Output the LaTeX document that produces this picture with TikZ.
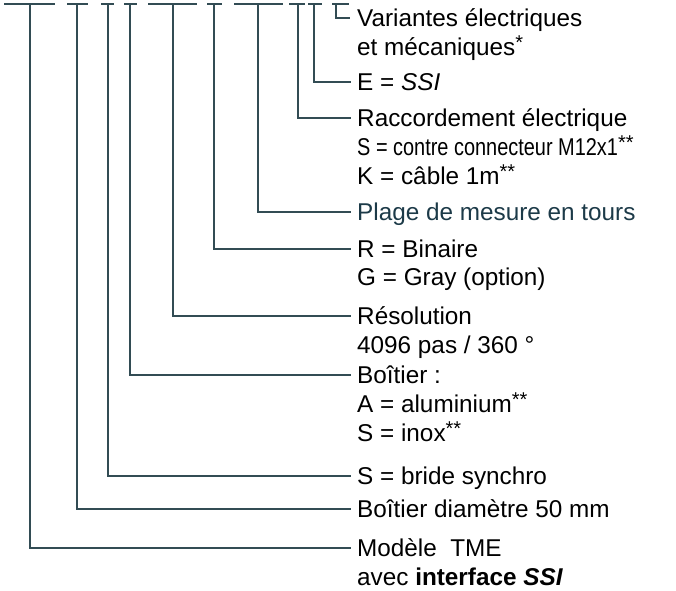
\documentclass[tikz,border=0pt]{standalone}
\usepackage{fontspec}
\setmainfont{Liberation Sans}
\usepackage{graphicx}
\definecolor{lin}{RGB}{50,76,84}
\definecolor{tealtxt}{RGB}{28,58,72}
\newcommand\supast[1]{\raisebox{6pt}{\fontsize{20}{20}\selectfont #1}}
\begin{document}
\begin{tikzpicture}[x=1pt,y=-1pt,
  conn/.style={draw=lin,line width=1.3pt},
  lbl/.style={anchor=west,inner sep=0pt,text height=17pt,text depth=0pt,
    font=\fontsize{24.3}{28}\selectfont,text=black},
]
\useasboundingbox (0,0) rectangle (676,590);
% top bars
\coordinate (a1) at (4,4);   \coordinate (b1) at (55,4);  \coordinate (v1) at (30,4);
\coordinate (a2) at (67,4);  \coordinate (b2) at (88,4);  \coordinate (v2) at (77,4);
\coordinate (a3) at (101,4); \coordinate (b3) at (114,4); \coordinate (v3) at (108,4);
\coordinate (a4) at (124,4); \coordinate (b4) at (137,4); \coordinate (v4) at (130,4);
\coordinate (a5) at (148,4); \coordinate (b5) at (197,4); \coordinate (v5) at (173,4);
\coordinate (a6) at (207,4); \coordinate (b6) at (222,4); \coordinate (v6) at (214,4);
\coordinate (a7) at (234,4); \coordinate (b7) at (283,4); \coordinate (v7) at (258,4);
\coordinate (a8) at (289,4); \coordinate (b8) at (305,4); \coordinate (v8) at (298,4);
\coordinate (a9) at (308,4); \coordinate (b9) at (322,4); \coordinate (v9) at (314,4);
\coordinate (a10) at (332,4); \coordinate (b10) at (349,4); \coordinate (v10) at (336,4);
\foreach \i in {1,...,10} {\draw[conn] (a\i) -- (b\i);}

% labels
\node[lbl] (var1) at (357,18) {Variantes électriques};
\node[lbl] (var2) at (357,47) {et mécaniques\supast{*}};
\node[lbl] (ssi) at (357,82) {E = \textit{SSI}};
\node[lbl] (rac1) at (357,118) {Raccordement électrique};
\node[lbl] (rac2) at (357,147) {\scalebox{0.82}[1]{S = contre connecteur M12x1}\supast{**}};
\node[lbl] (rac3) at (357,176) {K = câble 1m\supast{**}};
\node[lbl,text=tealtxt] (plage) at (357,212) {Plage de mesure en tours};
\node[lbl] (bin) at (357,249) {R = Binaire};
\node[lbl] (gray) at (357,277) {G = Gray (option)};
\node[lbl] (res1) at (357,316) {Résolution};
\node[lbl] (res2) at (357,345) {4096 pas / 360 °};
\node[lbl] (boi1) at (357,375) {Boîtier :};
\node[lbl] (boi2) at (357,404) {A = aluminium\supast{**}};
\node[lbl] (boi3) at (357,433) {S = inox\supast{**}};
\node[lbl] (bri) at (357,476) {S = bride synchro};
\node[lbl] (dia) at (357,509) {Boîtier diamètre 50 mm};
\node[lbl] (mod1) at (357,548) {Modèle\ \ TME};
\node[lbl] (mod2) at (357,577) {avec \textbf{interface \textit{SSI}}};

% connectors
\draw[conn] (v1) |- ([xshift=-6pt]mod1.west);
\draw[conn] (v2) |- ([xshift=-6pt]dia.west);
\draw[conn] (v3) |- ([xshift=-6pt]bri.west);
\draw[conn] (v4) |- ([xshift=-6pt]boi1.west);
\draw[conn] (v5) |- ([xshift=-6pt]res1.west);
\draw[conn] (v6) |- ([xshift=-6pt]bin.west);
\draw[conn] (v7) |- ([xshift=-6pt]plage.west);
\draw[conn] (v8) |- ([xshift=-6pt]rac1.west);
\draw[conn] (v9) |- ([xshift=-6pt]ssi.west);
\draw[conn] (v10) |- ([xshift=-7pt]var1.west);
\end{tikzpicture}
\end{document}
